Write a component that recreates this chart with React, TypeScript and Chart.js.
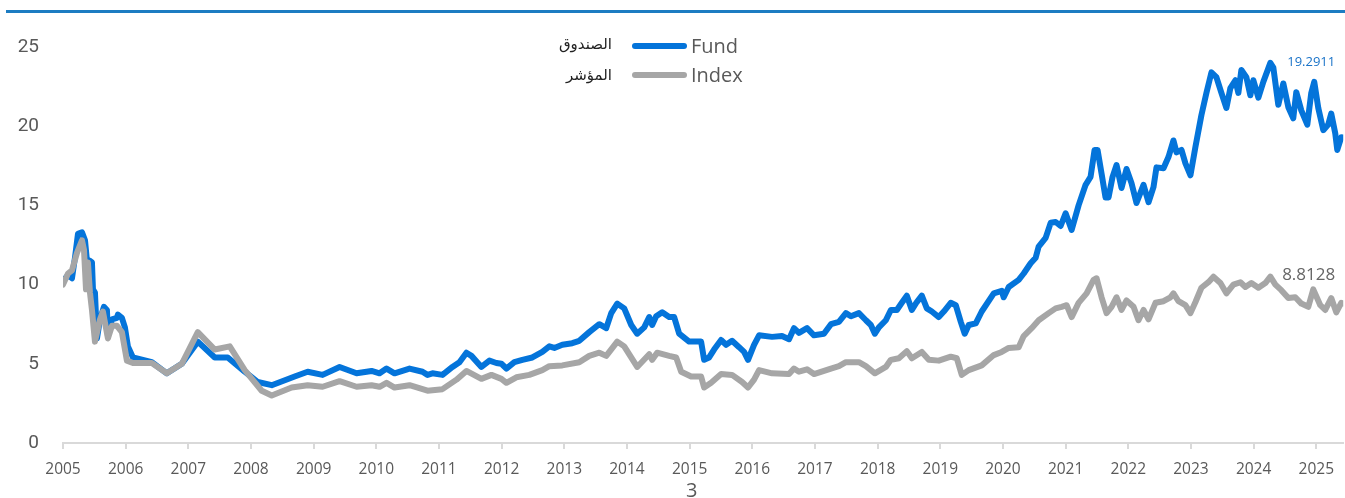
import React, { useEffect, useRef } from "react";
import { Chart, registerables } from "chart.js";

Chart.register(...registerables);

// ---- data ----
const yearTicks = [2005, 2006, 2007, 2008, 2009, 2010, 2011, 2012, 2013, 2014, 2015, 2016, 2017, 2018, 2019, 2020, 2021, 2022, 2023, 2024, 2025];
const yTicks = [0, 5, 10, 15, 20, 25];
const labelWindowStart = 2022.5; // end labels sit at the recent high

const fundYears = [
  2005.0, 2005.08, 2005.143, 2005.191, 2005.239, 2005.303, 2005.351, 2005.382, 2005.398, 2005.43, 2005.462, 2005.478, 2005.51, 2005.542, 2005.59, 2005.653, 2005.701, 2005.717, 2005.781, 2005.861, 2005.876, 2005.94, 2005.988,
  2006.036, 2006.116, 2006.418, 2006.657, 2006.896, 2007.151, 2007.422, 2007.629, 2007.9, 2008.108, 2008.331, 2008.697, 2008.904, 2009.143, 2009.414, 2009.685, 2009.924,
  2010.052, 2010.163, 2010.291, 2010.53, 2010.737, 2010.817, 2010.896, 2011.056, 2011.215, 2011.327, 2011.438, 2011.518, 2011.677, 2011.805, 2011.916, 2011.996,
  2012.076, 2012.203, 2012.331, 2012.49, 2012.649, 2012.761, 2012.841, 2012.968, 2013.127, 2013.239, 2013.398, 2013.558, 2013.669, 2013.749, 2013.845, 2013.956,
  2014.068, 2014.163, 2014.275, 2014.355, 2014.402, 2014.466, 2014.562, 2014.673, 2014.753, 2014.833, 2014.992, 2015.183, 2015.231, 2015.311, 2015.39, 2015.502, 2015.582, 2015.677, 2015.789, 2015.869, 2015.932,
  2016.028, 2016.108, 2016.315, 2016.474, 2016.586, 2016.665, 2016.745, 2016.873, 2016.984, 2017.143, 2017.255, 2017.382, 2017.494, 2017.574, 2017.701, 2017.813, 2017.892, 2017.956,
  2018.02, 2018.131, 2018.211, 2018.307, 2018.386, 2018.466, 2018.546, 2018.625, 2018.705, 2018.785, 2018.865, 2018.976, 2019.056, 2019.167, 2019.247, 2019.327, 2019.39, 2019.454, 2019.566, 2019.661, 2019.853, 2019.98,
  2020.012, 2020.092, 2020.251, 2020.331, 2020.442, 2020.522, 2020.57, 2020.681, 2020.761, 2020.841, 2020.92,
  2021.0, 2021.096, 2021.207, 2021.319, 2021.398, 2021.462, 2021.51, 2021.574, 2021.637, 2021.685, 2021.749, 2021.813, 2021.892, 2021.972,
  2022.052, 2022.131, 2022.243, 2022.323, 2022.402, 2022.45, 2022.562, 2022.641, 2022.721, 2022.769, 2022.849, 2022.912, 2022.992,
  2023.072, 2023.167, 2023.247, 2023.327, 2023.406, 2023.486, 2023.566, 2023.629, 2023.709, 2023.757, 2023.805, 2023.884, 2023.948, 2023.996,
  2024.076, 2024.155, 2024.267, 2024.315, 2024.394, 2024.474, 2024.554, 2024.633, 2024.681, 2024.761, 2024.857, 2024.92, 2024.968,
  2025.032, 2025.112, 2025.191, 2025.239, 2025.303, 2025.335, 2025.398, 2025.43,
];
const fundValues = [
  10.2, 10.6, 10.4, 11.7, 13.2, 13.3, 12.8, 11.5, 9.9, 11.5, 11.4, 9.7, 9.5, 6.6, 7.8, 8.6, 8.4, 6.8, 7.8, 7.9, 8.1, 7.9, 7.3,
  6.1, 5.4, 5.1, 4.4, 5.0, 6.4, 5.4, 5.4, 4.5, 3.85, 3.65, 4.2, 4.5, 4.3, 4.8, 4.4, 4.55,
  4.4, 4.7, 4.4, 4.7, 4.5, 4.3, 4.4, 4.3, 4.8, 5.1, 5.7, 5.5, 4.8, 5.2, 5.05, 5.0,
  4.7, 5.1, 5.25, 5.4, 5.75, 6.1, 6.0, 6.2, 6.3, 6.45, 7.0, 7.5, 7.25, 8.2, 8.8, 8.5,
  7.45, 6.9, 7.3, 7.95, 7.45, 8.0, 8.25, 7.95, 7.95, 6.9, 6.4, 6.4, 5.25, 5.4, 5.9, 6.5, 6.2, 6.45, 6.05, 5.75, 5.25,
  6.2, 6.8, 6.7, 6.75, 6.55, 7.25, 6.95, 7.25, 6.8, 6.9, 7.5, 7.65, 8.2, 8.0, 8.2, 7.75, 7.45, 6.9,
  7.3, 7.75, 8.4, 8.4, 8.85, 9.3, 8.4, 8.9, 9.3, 8.5, 8.3, 7.95, 8.3, 8.85, 8.7, 7.65, 6.9, 7.45, 7.55, 8.3, 9.45, 9.6,
  9.2, 9.85, 10.3, 10.7, 11.35, 11.7, 12.4, 12.95, 13.9, 13.95, 13.7,
  14.5, 13.45, 15.0, 16.3, 16.8, 18.5, 18.5, 17.0, 15.5, 15.5, 16.8, 17.55, 16.1, 17.3,
  16.4, 15.15, 16.3, 15.2, 16.15, 17.4, 17.35, 18.05, 19.1, 18.35, 18.5, 17.65, 16.9,
  18.7, 20.7, 22.1, 23.4, 23.1, 22.1, 21.15, 22.4, 22.9, 22.1, 23.55, 23.1, 21.95, 22.9,
  21.8, 22.8, 24.0, 23.7, 21.35, 22.7, 21.2, 20.5, 22.15, 21.0, 20.1, 22.1, 22.8,
  21.15, 19.75, 20.1, 20.8, 19.55, 18.5, 19.3, 19.2911,
];

const indexYears = [
  2005.0, 2005.08, 2005.143, 2005.223, 2005.303, 2005.335, 2005.367, 2005.398, 2005.43, 2005.462, 2005.51, 2005.59, 2005.637, 2005.717, 2005.781, 2005.861, 2005.94,
  2006.02, 2006.116, 2006.418, 2006.657, 2006.896, 2007.151, 2007.422, 2007.661, 2007.9, 2008.171, 2008.331, 2008.649, 2008.904, 2009.143, 2009.414, 2009.685, 2009.924,
  2010.052, 2010.163, 2010.291, 2010.53, 2010.817, 2011.056, 2011.279, 2011.438, 2011.677, 2011.837, 2011.996,
  2012.076, 2012.235, 2012.442, 2012.649, 2012.761, 2012.968, 2013.239, 2013.398, 2013.558, 2013.669, 2013.845, 2013.956,
  2014.163, 2014.355, 2014.402, 2014.482, 2014.673, 2014.785, 2014.865, 2015.024, 2015.183, 2015.231, 2015.343, 2015.502, 2015.677, 2015.837, 2015.932,
  2016.028, 2016.108, 2016.315, 2016.586, 2016.665, 2016.745, 2016.873, 2016.984, 2017.255, 2017.382, 2017.494, 2017.701, 2017.813, 2017.956,
  2018.131, 2018.211, 2018.339, 2018.466, 2018.546, 2018.705, 2018.817, 2018.976, 2019.167, 2019.263, 2019.343, 2019.454, 2019.661, 2019.853, 2019.98,
  2020.092, 2020.251, 2020.331, 2020.458, 2020.57, 2020.729, 2020.841, 2020.936,
  2021.016, 2021.096, 2021.207, 2021.335, 2021.446, 2021.494, 2021.574, 2021.653, 2021.733, 2021.813, 2021.892, 2021.972,
  2022.084, 2022.163, 2022.243, 2022.323, 2022.434, 2022.562, 2022.673, 2022.721, 2022.801, 2022.912, 2022.992,
  2023.072, 2023.167, 2023.279, 2023.359, 2023.47, 2023.566, 2023.677, 2023.789, 2023.869, 2023.964,
  2024.076, 2024.187, 2024.267, 2024.347, 2024.442, 2024.554, 2024.665, 2024.761, 2024.873, 2024.952,
  2025.064, 2025.143, 2025.239, 2025.319, 2025.398, 2025.43,
];
const indexValues = [
  10.0, 10.7, 10.9, 12.0, 12.8, 12.2, 9.7, 11.4, 9.5, 8.4, 6.4, 7.8, 8.3, 6.6, 7.4, 7.4, 7.0,
  5.2, 5.05, 5.05, 4.4, 5.0, 7.0, 5.9, 6.1, 4.6, 3.3, 3.0, 3.5, 3.65, 3.55, 3.9, 3.55, 3.65,
  3.55, 3.8, 3.5, 3.65, 3.3, 3.4, 4.0, 4.55, 4.05, 4.3, 4.05,
  3.8, 4.15, 4.3, 4.6, 4.85, 4.9, 5.1, 5.5, 5.7, 5.5, 6.4, 6.1,
  4.8, 5.6, 5.25, 5.7, 5.5, 5.4, 4.5, 4.2, 4.2, 3.5, 3.8, 4.35, 4.3, 3.85, 3.5,
  4.0, 4.6, 4.4, 4.35, 4.7, 4.5, 4.65, 4.35, 4.7, 4.85, 5.1, 5.1, 4.85, 4.4,
  4.8, 5.25, 5.35, 5.8, 5.35, 5.75, 5.25, 5.2, 5.45, 5.35, 4.3, 4.6, 4.9, 5.55, 5.75,
  6.0, 6.05, 6.75, 7.25, 7.75, 8.2, 8.5, 8.6,
  8.7, 7.95, 8.85, 9.45, 10.3, 10.4, 9.2, 8.2, 8.6, 9.2, 8.4, 9.0,
  8.6, 7.75, 8.4, 7.8, 8.85, 8.95, 9.2, 9.45, 8.95, 8.7, 8.2,
  8.9, 9.8, 10.15, 10.5, 10.1, 9.45, 10.0, 10.15, 9.85, 10.1,
  9.8, 10.1, 10.5, 10.0, 9.65, 9.15, 9.2, 8.8, 8.6, 9.7,
  8.7, 8.4, 9.15, 8.25, 8.85, 8.8128,
];

const seriesNames = ["Fund", "Index"];
const seriesNamesAr = ["الصندوق", "المؤشر"];
const fundColor = "#0474da";
const indexColor = "#a6a6a6";

const toPoints = (xs: number[], ys: number[]) => xs.map((x, i) => ({ x, y: ys[i] }));

const endLabelPlugin = {
  id: "endLabels",
  afterDatasetsDraw(chart: any) {
    const ctx = chart.ctx;
    const yScale = chart.scales.y;
    const area = chart.chartArea;
    chart.data.datasets.forEach((ds: any) => {
      const pts = ds.data;
      const last = pts[pts.length - 1].y;
      const recent = pts.filter((p: any) => p.x >= labelWindowStart).map((p: any) => p.y);
      const max = Math.max(...recent);
      const y = yScale.getPixelForValue(max) + ds.labelDy;
      ctx.save();
      ctx.font = ds.labelFont;
      ctx.fillStyle = ds.labelColor;
      ctx.textAlign = "right";
      ctx.textBaseline = "middle";
      ctx.fillText(String(last), area.right - 8, y);
      ctx.restore();
    });
  },
};

export default function App() {
  const canvasRef = useRef<HTMLCanvasElement | null>(null);

  useEffect(() => {
    const canvas = canvasRef.current;
    if (!canvas) return;
    const chart = new Chart(canvas, {
      type: "line",
      data: {
        datasets: [
          {
            label: seriesNames[1],
            data: toPoints(indexYears, indexValues),
            borderColor: indexColor,
            borderWidth: 6,
            pointRadius: 0,
            tension: 0,
            borderJoinStyle: "round",
            borderCapStyle: "round",
            order: 0,
            labelFont: "17px 'Open Sans'",
            labelColor: "#666666",
            labelDy: -2,
          } as any,
          {
            label: seriesNames[0],
            data: toPoints(fundYears, fundValues),
            borderColor: fundColor,
            borderWidth: 6,
            pointRadius: 0,
            tension: 0,
            borderJoinStyle: "round",
            borderCapStyle: "round",
            order: 1,
            labelFont: "13px 'Open Sans'",
            labelColor: "#1a73c8",
            labelDy: -1,
          } as any,
        ],
      },
      options: {
        responsive: false,
        animation: false,
        devicePixelRatio: 1,
        layout: { padding: { top: 47, right: 0, left: 0, bottom: 0 } },
        plugins: { legend: { display: false }, tooltip: { enabled: false } },
        scales: {
          x: {
            type: "linear",
            min: 2005,
            max: 2025.43,
            afterBuildTicks: (scale: any) => {
              scale.ticks = yearTicks.map((v) => ({ value: v }));
            },
            afterFit: (scale: any) => {
              scale.height = 55;
            },
            grid: { display: true, drawOnChartArea: false, drawTicks: true, tickLength: 6, color: "#d9d9d9", lineWidth: 2 },
            border: { display: true, color: "#d9d9d9", width: 2 },
            ticks: {
              autoSkip: false,
              maxRotation: 0,
              padding: 11,
              color: "#595959",
              font: { family: "'Open Sans'", size: 15.5 },
              callback: (v: any) => String(v),
            },
          },
          y: {
            min: 0,
            max: 25,
            afterBuildTicks: (scale: any) => {
              scale.ticks = yTicks.map((v) => ({ value: v }));
            },
            afterFit: (scale: any) => {
              scale.width = 63;
            },
            grid: { display: false, drawTicks: false },
            border: { display: false },
            ticks: {
              padding: 24,
              color: "#595959",
              font: { family: "Roboto", size: 19 },
            },
          },
        },
      },
      plugins: [endLabelPlugin],
    });
    return () => chart.destroy();
  }, []);

  return (
    <div style={{ position: "fixed", left: 0, top: 0, width: 1345, height: 498, background: "#fff", overflow: "hidden" }}>
      <div style={{ position: "absolute", left: 6, top: 10, width: 1339, height: 3, background: "#1c7cc2" }} />
      <canvas ref={canvasRef} width={1345} height={498} style={{ position: "absolute", left: 0, top: 0, width: 1345, height: 498 }} />
      {/* legend */}
      <div style={{ position: "absolute", left: 480, top: 35, width: 132, textAlign: "right", direction: "rtl", font: "15px 'DejaVu Sans'", color: "#222" }}>
        {seriesNamesAr[0]}
      </div>
      <div style={{ position: "absolute", left: 480, top: 66, width: 132, textAlign: "right", direction: "rtl", font: "15px 'DejaVu Sans'", color: "#222" }}>
        {seriesNamesAr[1]}
      </div>
      <div style={{ position: "absolute", left: 632, top: 43, width: 55, height: 6, borderRadius: 3, background: fundColor }} />
      <div style={{ position: "absolute", left: 632, top: 72, width: 55, height: 6, borderRadius: 3, background: indexColor }} />
      <div style={{ position: "absolute", left: 691, top: 34, font: "20px 'Open Sans'", lineHeight: "24px", color: "#595959" }}>
        {seriesNames[0]}
      </div>
      <div style={{ position: "absolute", left: 691, top: 63, font: "20px 'Open Sans'", lineHeight: "24px", color: "#595959" }}>
        {seriesNames[1]}
      </div>
      <div style={{ position: "absolute", left: 686, top: 478, font: "20px 'Open Sans'", lineHeight: "24px", color: "#595959" }}>
        3
      </div>
    </div>
  );
}
